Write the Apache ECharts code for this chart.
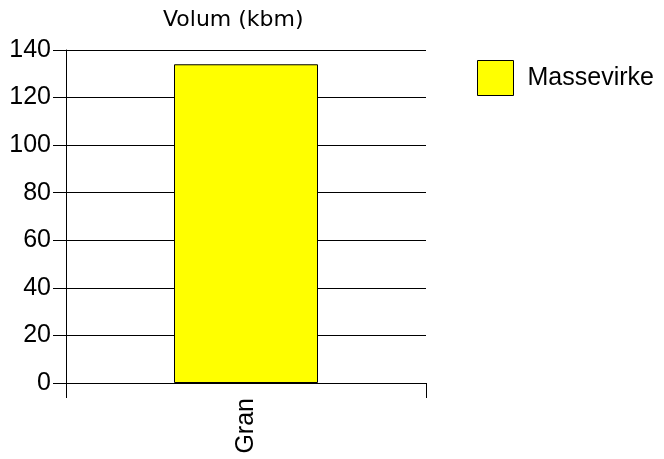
<!DOCTYPE html>
<html>
<head>
<meta charset="utf-8">
<script src="https://cdn.jsdelivr.net/npm/echarts@6/dist/echarts.min.js"></script>
<style>html,body{margin:0;padding:0;background:#fff}#c{width:664px;height:459px}</style>
</head>
<body>
<div id="c"></div>
<script>
const categories = ['Gran'];
const seriesName = 'Massevirke';
const values = [134];
const yTicks = [0, 20, 40, 60, 80, 100, 120, 140];
const titleText = 'Volum (kbm)';

const chart = echarts.init(document.getElementById('c'), null, {renderer: 'canvas'});
chart.setOption({
  animation: false,
  backgroundColor: '#fff',
  title: {
    text: titleText,
    left: 158, top: 4,
    textStyle: {fontFamily: 'DejaVu Sans', fontSize: 22, fontWeight: 'normal', color: '#000'}
  },
  legend: {
    data: [seriesName],
    left: 472, top: 55,
    itemWidth: 36, itemHeight: 35,
    icon: 'rect',
    textStyle: {fontFamily: 'Liberation Sans, Arial', fontSize: 25, color: '#000', padding: [0, 0, 0, 9]},
    itemStyle: {borderColor: '#000', borderWidth: 1}
  },
  grid: {left: 66, right: 238, top: 50, bottom: 76, containLabel: false},
  xAxis: {
    type: 'category',
    data: categories,
    axisLine: {lineStyle: {color: '#000', width: 1}},
    axisTick: {show: true, length: 15, alignWithLabel: false, lineStyle: {color: '#000'}},
    axisLabel: {rotate: 90, margin: 15, fontFamily: 'Liberation Sans, Arial', fontSize: 25, color: '#000'}
  },
  yAxis: {
    type: 'value',
    min: yTicks[0], max: yTicks[yTicks.length - 1], interval: yTicks[1] - yTicks[0],
    axisLine: {show: true, lineStyle: {color: '#000', width: 1}},
    axisTick: {show: true, length: 13, lineStyle: {color: '#000'}},
    axisLabel: {margin: 15, fontFamily: 'Liberation Sans, Arial', fontSize: 25, color: '#000'},
    splitLine: {show: true, lineStyle: {color: '#000', width: 1}}
  },
  series: [{
    name: seriesName,
    type: 'bar',
    data: values,
    barWidth: '40%',
    itemStyle: {color: '#ffff00', borderColor: '#000', borderWidth: 1}
  }]
});
</script>
</body>
</html>
